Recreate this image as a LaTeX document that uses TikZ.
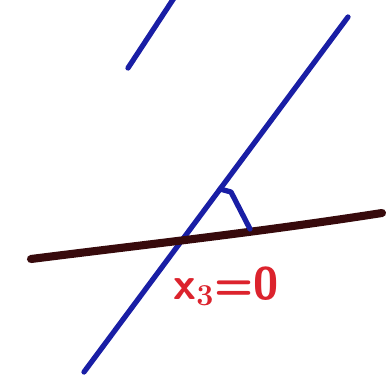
\documentclass[tikz,border=0pt]{standalone}
\usepackage{tikz}
\usetikzlibrary{calc}

\definecolor{penblue}{RGB}{25,30,165}
\definecolor{penbrown}{RGB}{55,10,12}
\definecolor{penred}{RGB}{220,35,45}

\begin{document}
\begin{tikzpicture}[
  x=0.02cm, y=-0.02cm,
  plane/.style={draw=penblue, line width=3pt, line cap=round},
  trace/.style={draw=penbrown, line width=4.6pt, line cap=round},
  anglemark/.style={draw=penblue, line width=3pt, line cap=round, line join=round},
  label/.style={text=penred, font=\sffamily\bfseries\fontsize{26}{28}\selectfont, inner sep=0pt},
]
  \useasboundingbox (0,0) rectangle (387,379);

  % blue lines
  \coordinate (a1) at (128,68);
  \coordinate (a2) at (174,-2);
  \coordinate (b1) at (84,372);
  \coordinate (b2) at (348,17);
  \draw[plane] (a1) -- (a2);
  \draw[plane] (b1) -- (b2);

  % trace line
  \coordinate (c1) at (31,259);
  \coordinate (c2) at (382,213);
  \draw[trace] (c1) .. controls (150,244) and (260,232) .. (c2);

  % angle mark
  \coordinate (m1) at (220,189);
  \coordinate (m2) at (231,192);
  \coordinate (m3) at (250,229);
  \draw[anglemark] (m1) -- (m2) -- (m3);

  \node[label] (eq) at (226,286) {x$_{\mathbf 3}$=0};
\end{tikzpicture}
\end{document}
